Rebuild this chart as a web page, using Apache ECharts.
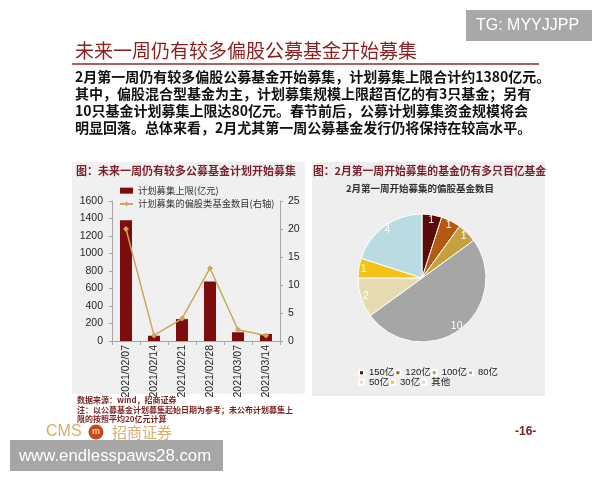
<!DOCTYPE html>
<html>
<head>
<meta charset="utf-8">
<title>未来一周仍有较多偏股公募基金开始募集</title>
<script src="https://cdn.jsdelivr.net/npm/echarts@6/dist/echarts.min.js"></script>
<style>
  html, body { margin: 0; padding: 0; background: #fff; }
  #chart { width: 600px; height: 480px; }
</style>
</head>
<body>
<div id="chart"></div>
<script>
// left chart: weekly plan
var weeks = ["2021/02/07", "2021/02/14", "2021/02/21", "2021/02/28", "2021/03/07", "2021/03/14"];
var planLimit = [1380, 60, 250, 680, 100, 80]; // 计划募集上限(亿元)
var fundCount = [20, 1, 4, 13, 2, 1]; // 偏股类基金数目(右轴)

// right chart: funds by size
var sizeNames = ["150亿", "120亿", "100亿", "80亿", "50亿", "30亿", "其他"];
var sizeCounts = [1, 1, 1, 10, 2, 1, 4];
var sizeColors = ["#5c0b0b", "#b35a10", "#c6a03e", "#a6a6a6", "#e6dbb0", "#f3c417", "#b8dce2"];

var paragraph = [
  "2月第一周仍有较多偏股公募基金开始募集，计划募集上限合计约1380亿元。",
  "其中，偏股混合型基金为主，计划募集规模上限超百亿的有3只基金；另有",
  "10只基金计划募集上限达80亿元。春节前后，公募计划募集资金规模将会",
  "明显回落。总体来看，2月尤其第一周公募基金发行仍将保持在较高水平。"
];
var notes = [
  "数据来源：wind，招商证券",
  "注：以公募基金计划募集起始日期为参考；未公布计划募集上",
  "限的按照平均20亿元计算"
];

var cjk = '"Noto Sans CJK SC"';
var latin = '"Liberation Sans", "Noto Sans CJK SC"';

var chart = echarts.init(document.getElementById("chart"));

var graphics = [
  // panels
  { type: "rect", shape: { x: 72, y: 162, width: 233, height: 232 }, style: { fill: "#f0f0f0" }, z: 0 },
  { type: "rect", shape: { x: 312, y: 162, width: 233, height: 234 }, style: { fill: "#eeeeee" }, z: 0 },
  // TG box
  { type: "rect", shape: { x: 466, y: 10, width: 126, height: 31 }, style: { fill: "#a8a8a8" }, z: 0 },
  { type: "text", x: 476, y: 26, style: { text: "TG: MYYJJPP", font: "16px " + latin, fill: "#fff", verticalAlign: "middle" }, z: 10 },
  // title
  { type: "text", x: 75, y: 51, style: { text: "未来一周仍有较多偏股公募基金开始募集", font: "19px " + cjk, fill: "#8c1d1d", verticalAlign: "middle" }, z: 10 },
  { type: "line", shape: { x1: 72, y1: 64, x2: 539, y2: 64 }, style: { stroke: "#9b2a2a", lineWidth: 1.5 }, z: 10 },
  // panel titles
  { type: "text", x: 76, y: 171, style: { text: "图：未来一周仍有较多公募基金计划开始募集", font: "bold 11px " + cjk, fill: "#7a1f2b", verticalAlign: "middle" }, z: 10 },
  { type: "text", x: 313, y: 171, style: { text: "图：2月第一周开始募集的基金仍有多只百亿基金", font: "bold 10.8px " + cjk, fill: "#7a1f2b", verticalAlign: "middle" }, z: 10 },
  { type: "text", x: 420, y: 188, style: { text: "2月第一周开始募集的偏股基金数目", font: "bold 9.5px " + cjk, fill: "#333", align: "center", verticalAlign: "middle" }, z: 10 },
  // logo + page
  { type: "text", x: 46, y: 432, style: { text: "CMS", font: "16px " + latin, fill: "#d8ad6e", verticalAlign: "middle" }, z: 10 },
  { type: "circle", shape: { cx: 96, cy: 432, r: 7.5 }, style: { fill: "#c5481d" }, z: 10 },
  { type: "text", x: 96, y: 432, style: { text: "m", font: "bold 9px " + latin, fill: "#ffd9a0", align: "center", verticalAlign: "middle" }, z: 11 },
  { type: "text", x: 112, y: 432, style: { text: "招商证券", font: "15px " + cjk, fill: "#d8ad6e", verticalAlign: "middle" }, z: 10 },
  { type: "text", x: 515, y: 432, style: { text: "-16-", font: "bold 12px " + latin, fill: "#7a2222", verticalAlign: "middle" }, z: 10 },
  // watermark
  { type: "rect", shape: { x: 10, y: 440, width: 213, height: 31 }, style: { fill: "#a6a6a6" }, z: 20 },
  { type: "text", x: 19, y: 456, style: { text: "www.endlesspaws28.com", font: "16.8px " + latin, fill: "#fff", verticalAlign: "middle" }, z: 21 }
];

paragraph.forEach(function (line, i) {
  graphics.push({
    type: "text", x: 75, y: 77 + i * 16.8, z: 10,
    style: { text: line, font: "bold 14px " + cjk, fill: "#111", verticalAlign: "middle" }
  });
});
notes.forEach(function (line, i) {
  graphics.push({
    type: "text", x: 77, y: 400 + i * 9.5, z: 10,
    style: { text: line, font: "bold 8px " + cjk, fill: "#7b1f1f", verticalAlign: "middle" }
  });
});

var pieData = sizeNames.map(function (n, i) {
  return { name: n, value: sizeCounts[i], itemStyle: { color: sizeColors[i] } };
});
var pieLabels = sizeNames.map(function (n, i) {
  return { name: n, value: sizeCounts[i] };
});

var axisGray = "#a6a6a6";

chart.setOption({
  animation: false,
  textStyle: { fontFamily: latin },
  graphic: graphics,
  grid: { left: 112, right: 320, top: 201, bottom: 139 },
  legend: [
    {
      orient: "vertical",
      left: 114,
      top: 181,
      itemWidth: 13,
      itemHeight: 6,
      itemGap: 4,
      textStyle: { fontSize: 9.3, color: "#333", fontFamily: cjk },
      data: [
        { name: "计划募集上限(亿元)", icon: "rect" },
        { name: "计划募集的偏股类基金数目(右轴)" }
      ]
    },
    {
      left: 353,
      top: 363,
      width: 160,
      itemWidth: 5,
      itemHeight: 5,
      itemGap: 0,
      icon: "rect",
      formatter: "{a|{name}}",
      textStyle: {
        color: "#1a1a1a",
        rich: { a: { width: 25, fontSize: 9.5, color: "#1a1a1a", fontFamily: latin } }
      },
      data: sizeNames
    }
  ],
  xAxis: {
    type: "category",
    data: weeks,
    axisLine: { lineStyle: { color: axisGray } },
    axisTick: { show: true, length: 4, lineStyle: { color: axisGray } },
    axisLabel: { rotate: 90, interval: 0, fontSize: 10.5, color: "#262626", margin: 4 }
  },
  yAxis: [
    {
      type: "value",
      min: 0,
      max: 1600,
      interval: 200,
      axisLine: { show: true, lineStyle: { color: axisGray } },
      axisTick: { show: true, length: 3, lineStyle: { color: axisGray } },
      splitLine: { show: false },
      axisLabel: {
        fontSize: 10.5,
        color: "#262626",
        margin: 9,
        formatter: function (v) {
          return String(v);
        }
      }
    },
    {
      type: "value",
      position: "right",
      min: 0,
      max: 25,
      interval: 5,
      axisLine: { show: true, lineStyle: { color: axisGray } },
      axisTick: { show: true, length: 3, lineStyle: { color: axisGray } },
      splitLine: { show: false },
      axisLabel: { fontSize: 10.5, color: "#262626", margin: 8 }
    }
  ],
  series: [
    {
      name: "计划募集上限(亿元)",
      type: "bar",
      data: planLimit,
      barWidth: 12,
      itemStyle: { color: "#7d0c0c" }
    },
    {
      name: "计划募集的偏股类基金数目(右轴)",
      type: "line",
      yAxisIndex: 1,
      data: fundCount,
      symbol: "diamond",
      symbolSize: 6,
      lineStyle: { color: "#c9a85c", width: 1.5 },
      itemStyle: { color: "#c9a85c" }
    },
    {
      name: "偏股基金数目",
      type: "pie",
      center: [422, 278],
      radius: [0, 64],
      startAngle: 90,
      label: { show: false },
      labelLine: { show: false },
      itemStyle: { borderColor: "#fff", borderWidth: 1 },
      emphasis: { disabled: true },
      data: pieData
    },
    {
      // label ring, places numbers near the rim
      name: "标签",
      type: "pie",
      center: [422, 278],
      radius: [48, 64],
      startAngle: 90,
      silent: true,
      legendHoverLink: false,
      itemStyle: { color: "rgba(0,0,0,0)" },
      label: { show: true, position: "inside", color: "#fff", fontSize: 10.5, formatter: "{c}" },
      labelLine: { show: false },
      emphasis: { disabled: true },
      data: pieLabels
    }
  ]
});
</script>
</body>
</html>
